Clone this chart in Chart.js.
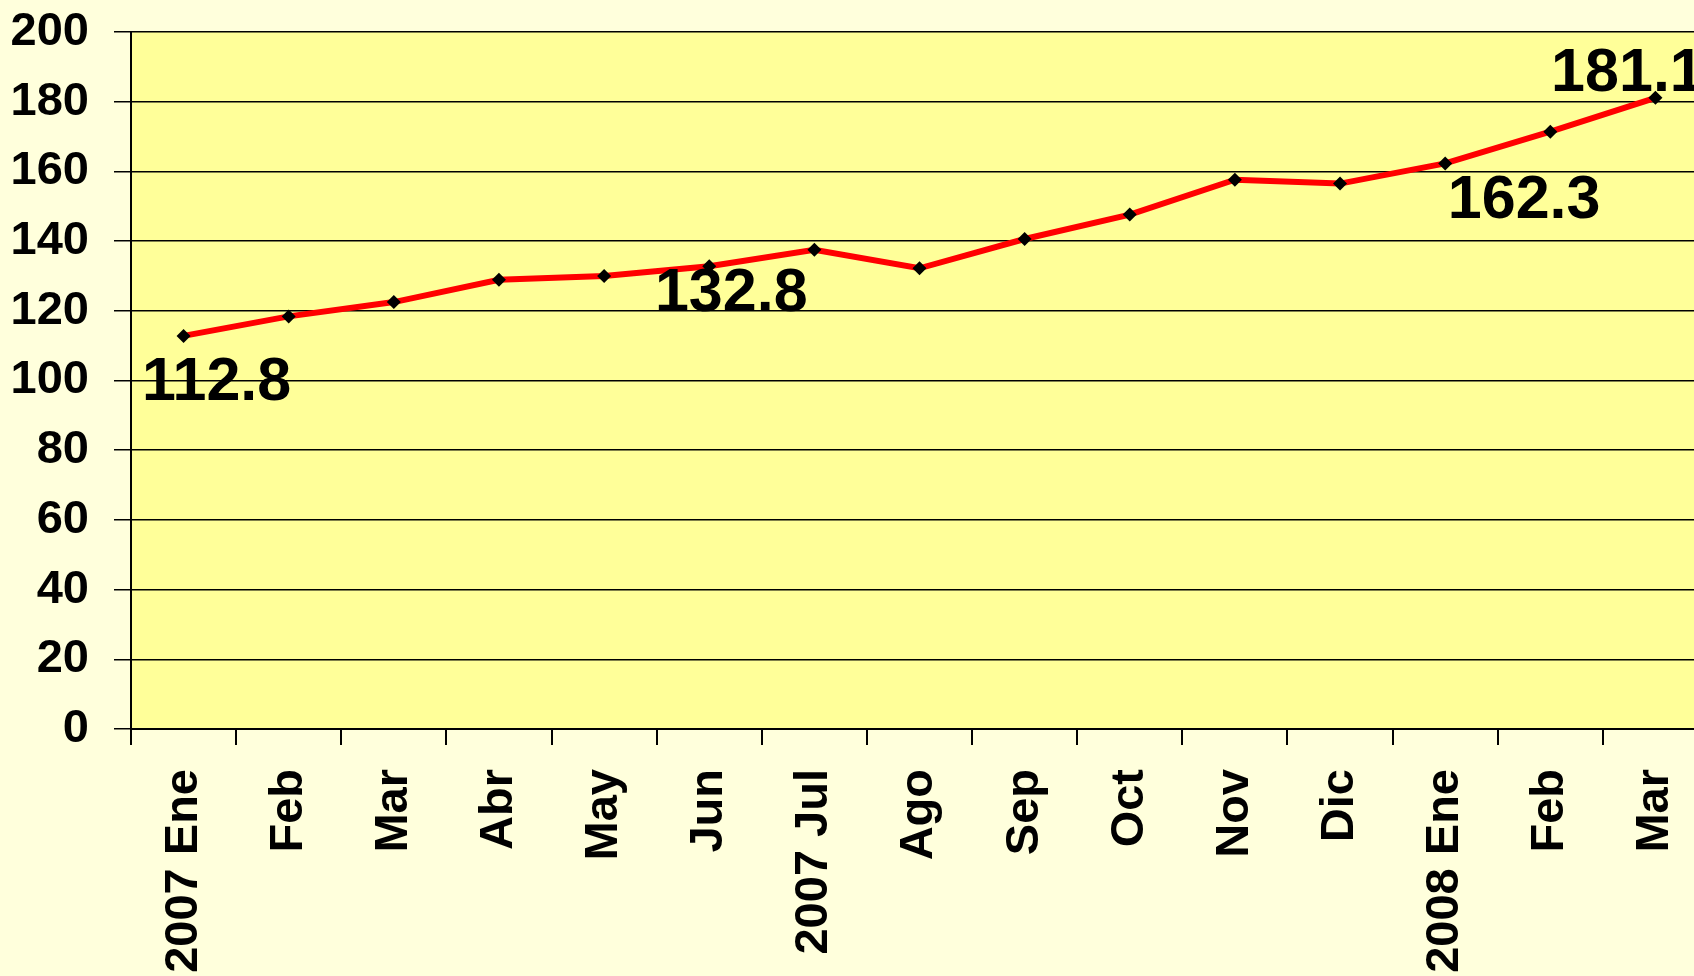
<!DOCTYPE html>
<html>
<head>
<meta charset="utf-8">
<title>Índice 2007-2008</title>
<script src="https://cdn.jsdelivr.net/npm/chart.js@4"></script>
<style>
  html, body { margin: 0; padding: 0; overflow: hidden; background: #FFFFDC; }
  #wrap { width: 1715px; height: 976px; }
</style>
</head>
<body>
<div id="wrap"><canvas id="chart" width="1715" height="976"></canvas></div>
<script>
// Datos
const months = ['2007 Ene', 'Feb', 'Mar', 'Abr', 'May', 'Jun', '2007 Jul', 'Ago', 'Sep', 'Oct', 'Nov', 'Dic', '2008 Ene', 'Feb', 'Mar'];
const values = [112.8, 118.4, 122.5, 128.9, 130.0, 132.8, 137.5, 132.2, 140.6, 147.6, 157.6, 156.5, 162.3, 171.4, 181.1];
const yMin = 0;
const yMax = 200;
const yStep = 20;
// puntos con etiqueta de valor
const labeledIdx = [0, 5, 12, 14];

const FONT = "'Liberation Sans', Arial, Helvetica, sans-serif";

// desplazamiento de cada etiqueta respecto a su punto
const labelOffsets = {
    0: { dx: 33, dy: 64 },
    5: { dx: 22, dy: 45 },
    12: { dx: 79, dy: 55 },
    14: { dx: -28, dy: -7 }
};

const plotBg = {
    id: 'plotBg',
    beforeDraw(chart) {
        const { ctx, chartArea: a } = chart;
        ctx.save();
        ctx.fillStyle = '#FFFF99';
        ctx.fillRect(a.left, a.top, a.right - a.left, a.bottom - a.top);
        ctx.restore();
    }
};

const valueLabels = {
    id: 'valueLabels',
    afterDatasetsDraw(chart) {
        const { ctx } = chart;
        const meta = chart.getDatasetMeta(0);
        ctx.save();
        ctx.font = 'bold 61px ' + FONT;
        ctx.fillStyle = '#000';
        ctx.textAlign = 'center';
        ctx.textBaseline = 'alphabetic';
        labeledIdx.forEach(i => {
            const pt = meta.data[i];
            const off = labelOffsets[i];
            ctx.fillText(values[i].toFixed(1), pt.x + off.dx, pt.y + off.dy);
        });
        ctx.restore();
    }
};

new Chart(document.getElementById('chart'), {
    type: 'line',
    data: {
        labels: months,
        datasets: [{
            data: values,
            borderColor: '#FF0000',
            borderWidth: 6,
            tension: 0,
            pointStyle: 'rectRot',
            pointRadius: 7,
            pointBackgroundColor: '#000',
            pointBorderWidth: 0
        }]
    },
    options: {
        responsive: false,
        animation: false,
        layout: { padding: { top: 32, left: 0, right: 0, bottom: 0 } },
        plugins: { legend: { display: false }, tooltip: { enabled: false } },
        scales: {
            x: {
                offset: true,
                grid: { offset: true, drawOnChartArea: false, color: '#000', lineWidth: 2, tickLength: 16 },
                border: { color: '#000', width: 2 },
                ticks: {
                    autoSkip: false, maxRotation: 90, minRotation: 90, padding: 24,
                    color: '#000', font: { family: FONT, size: 47, weight: 'bold' }
                },
                afterFit(scale) { scale.height = 247; scale.paddingLeft = 0; scale.paddingRight = 0; }
            },
            y: {
                min: yMin, max: yMax,
                grid: { color: '#000', lineWidth: 1.5, tickLength: 17 },
                border: { color: '#000', width: 2 },
                ticks: {
                    stepSize: yStep, padding: 25,
                    color: '#000', font: { family: FONT, size: 47, weight: 'bold' }
                },
                afterFit(scale) { scale.width = 131; scale.paddingTop = 0; scale.paddingBottom = 0; }
            }
        }
    },
    plugins: [plotBg, valueLabels]
});
</script>
</body>
</html>
